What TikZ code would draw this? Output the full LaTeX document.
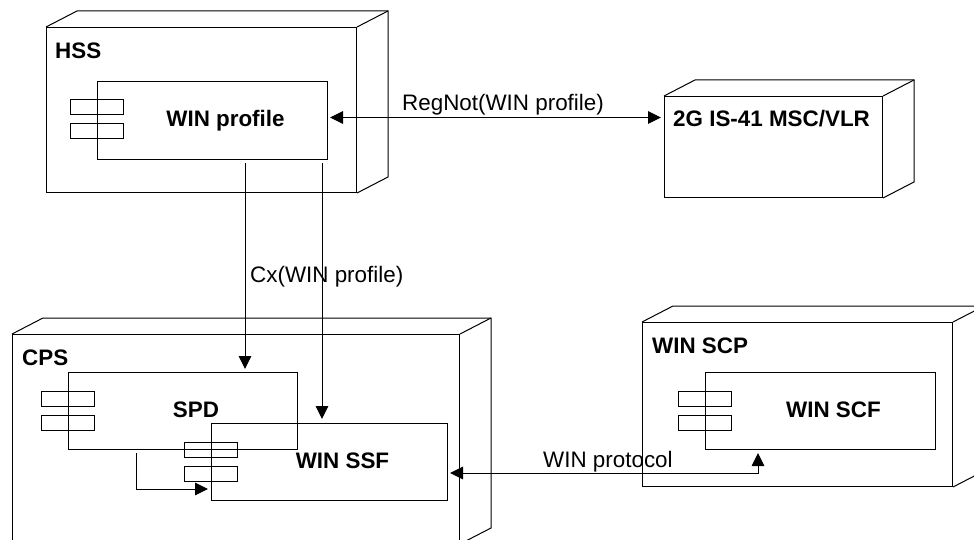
\documentclass[tikz,border=0pt]{standalone}
\usepackage{fontspec}
\setmainfont{Liberation Sans}
\usetikzlibrary{arrows.meta,calc}
\tikzset{
  line/.style={draw=black,line width=1pt},
  nodebox/.style={line, rectangle, inner sep=0pt, anchor=north west},
  compbox/.style={line, rectangle, inner sep=0pt, anchor=north west},
  lbl/.style={font=\fontsize{22.4}{26}\selectfont\bfseries, inner sep=0pt, anchor=base west},
  comptxt/.style={font=\fontsize{22.4}{26}\selectfont\bfseries, inner sep=0pt, anchor=base},
  edgetxt/.style={font=\fontsize{22.4}{26}\selectfont, inner sep=0pt, anchor=base west},
  conn/.style={line, -{Triangle[length=13pt,width=12.5pt]}},
  bconn/.style={line, {Triangle[length=13pt,width=12.5pt]}-{Triangle[length=13pt,width=12.5pt]}},
}
\newcommand{\threed}[1]{%
  \draw[line] (#1.north west) -- ++(31pt,16pt) -| ($(#1.south east)+(31pt,16pt)$) -- (#1.south east);
  \draw[line] (#1.north east) -- ++(31pt,16pt);}
\newcommand{\comptabs}[1]{%
  \draw[line] ($(#1.north west)+(-27pt,-19pt)$) rectangle ++(53pt,-15pt);
  \draw[line] ($(#1.north west)+(-27pt,-43pt)$) rectangle ++(53pt,-15pt);}
\begin{document}
\begin{tikzpicture}[x=1pt,y=-1pt]
\useasboundingbox (0,0) rectangle (974,540);
\clip (0,0) rectangle (974,540);

% deployment nodes
\node[nodebox, minimum width=310pt, minimum height=165pt] (hss) at (46,27) {};
\threed{hss}
\node[lbl] (hsslbl) at (55,59) {HSS};

\node[nodebox, minimum width=218pt, minimum height=101pt] (g2) at (664,96) {};
\threed{g2}
\node[lbl] (g2lbl) at (673,127) {2G IS-41 MSC/VLR};

\node[nodebox, minimum width=447pt, minimum height=209pt] (cps) at (12,334) {};
\threed{cps}
\node[lbl] (cpslbl) at (22,365) {CPS};

\node[nodebox, minimum width=310pt, minimum height=164pt] (scp) at (642,322) {};
\threed{scp}
\node[lbl] (scplbl) at (652,353) {WIN SCP};

% components
\node[compbox, minimum width=230pt, minimum height=78pt] (winprofile) at (97,81) {};
\comptabs{winprofile}
\node[comptxt] (winprofiletxt) at ([xshift=13pt,yshift=-6pt]winprofile.center) {WIN profile};

\node[compbox, minimum width=229pt, minimum height=77pt] (spd) at (68,372) {};
\comptabs{spd}
\node[comptxt] (spdtxt) at ([xshift=13pt,yshift=-6pt]spd.center) {SPD};

\node[compbox, minimum width=236pt, minimum height=77pt] (winssf) at (211,423) {};
\comptabs{winssf}
\node[comptxt] (winssftxt) at ([xshift=13pt,yshift=-6pt]winssf.center) {WIN SSF};

\node[compbox, minimum width=230pt, minimum height=77pt] (winscf) at (705,372) {};
\comptabs{winscf}
\node[comptxt] (winscftxt) at ([xshift=13pt,yshift=-6pt]winscf.center) {WIN SCF};

% connectors
\draw[bconn, shorten <=2pt, shorten >=3pt] ([yshift=3pt]winprofile.east) -- ([yshift=3pt]winprofile.east -| g2.west);
\node[edgetxt] (regnot) at (402,111) {RegNot(WIN profile)};

\coordinate (c1) at ($(winprofile.south west)+(148pt,-3pt)$);
\draw[conn, shorten >=3pt] (c1) -- (c1 |- spd.north);
\coordinate (c2) at ($(winprofile.south west)+(225pt,-3pt)$);
\draw[conn, shorten >=4pt] (c2) -- (c2 |- winssf.north);
\node[edgetxt] (cx) at (250,282) {Cx(WIN profile)};

\coordinate (c3) at ($(spd.south west)+(68pt,-3pt)$);
\draw[conn, shorten >=3pt] (c3) |- ($(winssf.north west)+(0pt,-66pt)$);

\draw[bconn, shorten <=2pt, shorten >=3pt] ($(winssf.north east)+(0pt,-50pt)$) -| ($(winscf.south west)+(53pt,0pt)$);
\node[edgetxt] (winprot) at (543,467) {WIN protocol};
\end{tikzpicture}
\end{document}
